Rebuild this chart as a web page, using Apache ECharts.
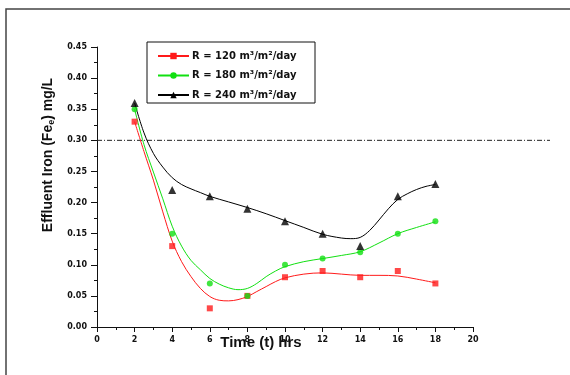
<!DOCTYPE html>
<html>
<head>
<meta charset="utf-8">
<script src="https://cdn.jsdelivr.net/npm/echarts@6/dist/echarts.min.js"></script>
<style>
  html, body { margin: 0; padding: 0; background: #fff; }
  #chart { width: 570px; height: 375px; }
</style>
</head>
<body>
<div id="chart"></div>
<script>
// Hydraulic loading rates (m3/m2/day) shown in the legend
const rates = ['120', '180', '240'];

// Measured effluent iron (mg/L) against time (hrs)
const timeHrs = [2, 4, 6, 8, 10, 12, 14, 16, 18];
const fe120 = [0.33, 0.13, 0.03, 0.05, 0.08, 0.09, 0.08, 0.09, 0.07];
const fe180 = [0.35, 0.15, 0.07, 0.05, 0.10, 0.11, 0.12, 0.15, 0.17];
const fe240 = [0.36, 0.22, 0.21, 0.19, 0.17, 0.15, 0.13, 0.21, 0.23];

// Fitted trend curves (time, value) for each loading rate
const fit120X = [2, 2.5, 3, 3.5, 4, 4.5, 5, 5.5, 6, 6.5, 7, 7.5, 8, 8.5, 9, 9.5, 10, 11, 12, 13, 14, 15, 16, 17, 18];
const fit120Y = [0.33, 0.282, 0.236, 0.185, 0.138, 0.105, 0.081, 0.062, 0.049, 0.043, 0.042, 0.044, 0.049, 0.057, 0.065, 0.073, 0.079, 0.085, 0.087, 0.085, 0.083, 0.083, 0.082, 0.077, 0.071];
const fit180X = [2, 2.5, 3, 3.5, 4, 4.5, 5, 5.5, 6, 6.5, 7, 7.5, 8, 8.5, 9, 9.5, 10, 11, 12, 13, 14, 15, 16, 17, 18];
const fit180Y = [0.35, 0.293, 0.249, 0.206, 0.162, 0.130, 0.107, 0.092, 0.078, 0.069, 0.063, 0.060, 0.062, 0.070, 0.081, 0.090, 0.097, 0.105, 0.110, 0.115, 0.121, 0.135, 0.150, 0.160, 0.169];
const fit240X = [2, 2.5, 3, 3.5, 4, 4.5, 5, 5.5, 6, 7, 8, 9, 10, 11, 12, 13, 13.5, 14, 14.5, 15, 15.5, 16, 16.5, 17, 17.5, 18];
const fit240Y = [0.36, 0.312, 0.279, 0.257, 0.240, 0.229, 0.222, 0.216, 0.210, 0.201, 0.192, 0.182, 0.171, 0.160, 0.149, 0.143, 0.142, 0.144, 0.155, 0.172, 0.190, 0.205, 0.214, 0.221, 0.226, 0.229];

// Permissible limit line
const limitValue = 0.30;

// Axis tick settings
const xMin = 0, xMax = 20, xStep = 2;
const yMin = 0, yMax = 0.45, yStep = 0.05;

const pairs = (xs, ys) => xs.map((x, i) => [x, ys[i]]);
const names = rates.map(r => 'R = ' + r + ' m³/m²/day');

const groups = [
  { name: names[0], color: '#ff1a1a', symbol: 'rect', size: 6, pts: fe120, fx: fit120X, fy: fit120Y },
  { name: names[1], color: '#11e011', symbol: 'circle', size: 6, pts: fe180, fx: fit180X, fy: fit180Y },
  { name: names[2], color: '#000000', symbol: 'triangle', size: 8, pts: fe240, fx: fit240X, fy: fit240Y }
];

const tickFont = { fontFamily: 'DejaVu Sans', fontWeight: 'bold', fontSize: 8, color: '#111' };

const series = [];
groups.forEach(g => {
  series.push({
    name: g.name, type: 'line', xAxisIndex: 0, yAxisIndex: 0,
    data: pairs(g.fx, g.fy), smooth: 0.35, showSymbol: false,
    symbol: g.symbol, symbolSize: g.size,
    lineStyle: { color: g.color, width: 1 }, itemStyle: { color: g.color },
    z: 2, silent: true
  });
});
groups.forEach(g => {
  series.push({
    name: g.name, type: 'scatter', xAxisIndex: 0, yAxisIndex: 0,
    data: pairs(timeHrs, g.pts), symbol: g.symbol, symbolSize: g.size,
    itemStyle: { color: g.color }, z: 3, silent: true
  });
});
// Limit line drawn across a wider, hidden overlay axis pair
series.push({
  type: 'line', xAxisIndex: 1, yAxisIndex: 1,
  data: [[0, limitValue], [1, limitValue]], showSymbol: false, silent: true,
  lineStyle: { color: '#222', width: 1, type: [5, 2, 1, 2] }, z: 1
});

const option = {
  animation: false,
  backgroundColor: '#fff',
  grid: [
    { left: 97, right: 97, top: 47, bottom: 48 },
    { left: 97, right: 20, top: 47, bottom: 48 }
  ],
  xAxis: [
    {
      type: 'value', gridIndex: 0, min: xMin, max: xMax, interval: xStep,
      axisLine: { show: true, lineStyle: { color: '#111', width: 1 } },
      axisTick: { show: true, length: 5, lineStyle: { color: '#111' } },
      minorTick: { show: true, splitNumber: 2, length: 3, lineStyle: { color: '#111' } },
      splitLine: { show: false },
      axisLabel: Object.assign({ margin: 9 }, tickFont)
    },
    {
      type: 'value', gridIndex: 1, min: 0, max: 1, show: false
    }
  ],
  yAxis: [
    {
      type: 'value', gridIndex: 0, min: yMin, max: yMax, interval: yStep,
      axisLine: { show: true, lineStyle: { color: '#111', width: 1 } },
      axisTick: { show: true, length: 6, lineStyle: { color: '#111' } },
      minorTick: { show: true, splitNumber: 2, length: 3, lineStyle: { color: '#111' } },
      splitLine: { show: false },
      axisLabel: Object.assign({ margin: 10, formatter: v => v.toFixed(2) }, tickFont)
    },
    {
      type: 'value', gridIndex: 1, min: yMin, max: yMax, show: false
    }
  ],
  legend: {
    data: names,
    orient: 'vertical', left: 147, top: 42,
    padding: [9, 10, 5, 10],
    itemWidth: 31, itemHeight: 8, itemGap: 9.5,
    textStyle: { fontFamily: 'DejaVu Sans', fontWeight: 'bold', fontSize: 10, color: '#111', padding: [0, 0, 0, -2] }
  },
  graphic: [
    { type: 'rect', shape: { x: 6, y: 9, width: 640, height: 440 }, style: { fill: 'none', stroke: '#444', lineWidth: 1.5 }, silent: true },
    { type: 'rect', shape: { x: 147, y: 42, width: 168, height: 61 }, style: { fill: 'none', stroke: '#111', lineWidth: 1 }, silent: true },
    {
      type: 'text', x: 48, y: 155, rotation: Math.PI / 2, silent: true,
      style: {
        text: '{a|Effluent Iron (Fe}{b|e}{a|) mg/L}',
        align: 'center', verticalAlign: 'middle',
        rich: {
          a: { fontFamily: 'Liberation Sans', fontWeight: 'bold', fontSize: 14, fill: '#111', lineHeight: 17 },
          b: { fontFamily: 'Liberation Sans', fontWeight: 'bold', fontSize: 9, fill: '#111', lineHeight: 17, verticalAlign: 'bottom' }
        }
      }
    },
    {
      type: 'text', x: 261, y: 343, silent: true, z: 10,
      style: { text: 'Time (t) hrs', align: 'center', verticalAlign: 'middle', fontFamily: 'Liberation Sans', fontWeight: 'bold', fontSize: 15, fill: '#111' }
    }
  ],
  series: series
};

const chart = echarts.init(document.getElementById('chart'), null, { renderer: 'canvas' });
chart.setOption(option);
</script>
</body>
</html>
